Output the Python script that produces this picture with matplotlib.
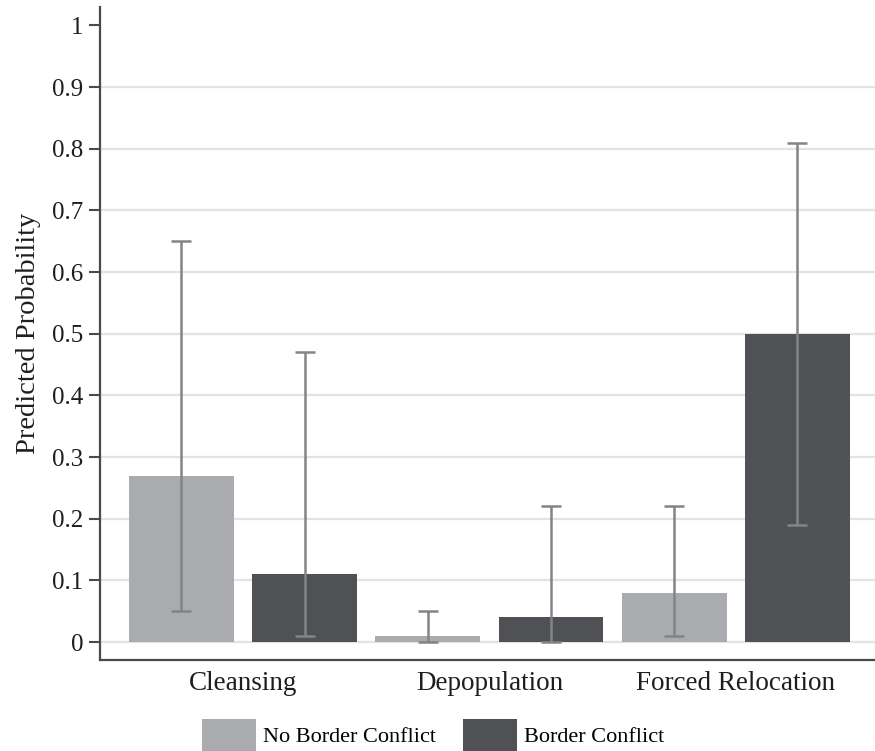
import matplotlib
matplotlib.use("Agg")
import matplotlib.pyplot as plt
import numpy as np
from matplotlib.patches import Patch

categories = ["Cleansing", "Depopulation", "Forced Relocation"]
series_names = ["No Border Conflict", "Border Conflict"]
no_border = [0.27, 0.01, 0.08]
no_border_lo = [0.05, 0.00, 0.01]
no_border_hi = [0.65, 0.05, 0.22]
border = [0.11, 0.04, 0.50]
border_lo = [0.01, 0.00, 0.19]
border_hi = [0.47, 0.22, 0.81]
yticks = [0, 0.1, 0.2, 0.3, 0.4, 0.5, 0.6, 0.7, 0.8, 0.9, 1]
ytick_labels = ["0", "0.1", "0.2", "0.3", "0.4", "0.5", "0.6", "0.7", "0.8", "0.9", "1"]

plt.rcParams['font.family'] = ['Liberation Serif', 'DejaVu Serif']

light = "#a9abae"
dark = "#505154"
err_c = "#838486"
spine_c = "#4a4a4a"
txt_c = "#1e1e1e"

fig = plt.figure(figsize=(8.75, 7.51), dpi=100)
ax = fig.add_axes([100/875, 91/751, 775/875, 653/751])

n = len(categories)
group = np.arange(n) * 2.0
x_light = group
x_dark = group + 1.0
w = 0.85

ax.bar(x_light, no_border, width=w, color=light, zorder=2)
ax.bar(x_dark, border, width=w, color=dark, zorder=2)

nb = np.array(no_border); b = np.array(border)
ax.errorbar(x_light, nb, yerr=[nb - np.array(no_border_lo), np.array(no_border_hi) - nb],
            fmt='none', ecolor=err_c, elinewidth=1.8, capsize=7.5, capthick=1.8, zorder=3)
ax.errorbar(x_dark, b, yerr=[b - np.array(border_lo), np.array(border_hi) - b],
            fmt='none', ecolor=err_c, elinewidth=1.8, capsize=7.5, capthick=1.8, zorder=3)

ax.set_xlim(-0.66, 5.63)
ax.set_ylim(-0.029, 1.03)
ax.set_yticks(yticks)
ax.set_yticklabels(ytick_labels, fontsize=18, color=txt_c)
ax.set_xticks(group + 0.5)
ax.set_xticklabels(categories, fontsize=19.5, color=txt_c)
ax.tick_params(axis='x', length=0, pad=8)
ax.tick_params(axis='y', length=8, width=1.5, color=spine_c, pad=4)

ax.yaxis.grid(True, color="#e3e3e3", linewidth=1.6, zorder=0)
ax.set_axisbelow(True)
gl = ax.yaxis.get_gridlines()
gl[-1].set_visible(False)

for s in ['top', 'right']:
    ax.spines[s].set_visible(False)
for s in ['left', 'bottom']:
    ax.spines[s].set_color(spine_c)
    ax.spines[s].set_linewidth(1.6)

ax.set_ylabel("Predicted Probability", fontsize=20.5, color=txt_c, labelpad=8)

handles = [Patch(facecolor=light, edgecolor='none'), Patch(facecolor=dark, edgecolor='none')]
fig.legend(handles, series_names, loc='upper center', bbox_to_anchor=(0.495, 0.0426),
           ncol=2, frameon=False, fontsize=16, handlelength=2.45, handleheight=1.85,
           columnspacing=1.2, handletextpad=0.32, borderaxespad=0, borderpad=0)

fig.savefig("out.png", dpi=100)
